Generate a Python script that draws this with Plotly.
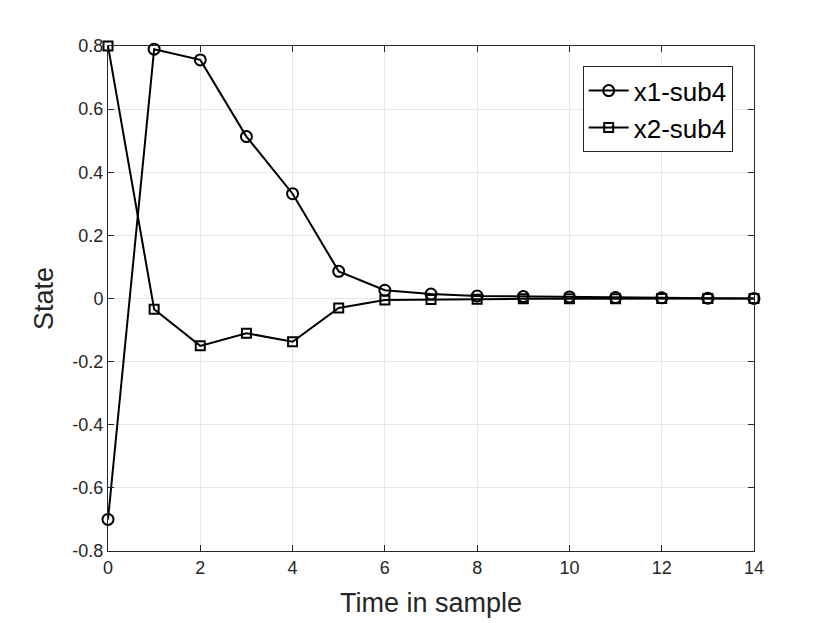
import plotly.graph_objects as go

# Data
time_steps = list(range(15))
x1_sub4 = [-0.70, 0.79, 0.756, 0.513, 0.332, 0.086, 0.026, 0.014, 0.008,
           0.006, 0.005, 0.003, 0.002, 0.001, 0.0]
x2_sub4 = [0.80, -0.034, -0.150, -0.110, -0.137, -0.030, -0.005, -0.003,
           -0.002, -0.001, -0.001, -0.001, 0.0, 0.0, 0.0]
x_ticks = [0, 2, 4, 6, 8, 10, 12, 14]
y_ticks = [-0.8, -0.6, -0.4, -0.2, 0, 0.2, 0.4, 0.6, 0.8]
y_ticklabels = ['-0.8', '-0.6', '-0.4', '-0.2', '0', '0.2', '0.4', '0.6', '0.8']

font_family = 'Liberation Sans, Arial, sans-serif'

fig = go.Figure()
fig.add_trace(go.Scatter(x=time_steps, y=x1_sub4, name='x1-sub4',
                         mode='lines+markers', legendgroup='a',
                         cliponaxis=False,
                         line=dict(color='black', width=2),
                         marker=dict(symbol='circle-open', size=11,
                                     color='black', line=dict(width=2))))
fig.add_trace(go.Scatter(x=time_steps, y=x2_sub4, name='x2-sub4',
                         mode='lines+markers', legendgroup='b',
                         cliponaxis=False,
                         line=dict(color='black', width=2),
                         marker=dict(symbol='square-open', size=9,
                                     color='black', line=dict(width=2))))

axis_style = dict(showline=True, linecolor='#262626', linewidth=1,
                  mirror='ticks', ticks='inside', ticklen=6,
                  tickcolor='#262626', showgrid=True, gridcolor='#e6e6e6',
                  gridwidth=1, zeroline=False,
                  tickfont=dict(family=font_family, size=18, color='#262626'))

fig.update_xaxes(range=[0, 14], tickvals=x_ticks,
                 title=dict(text='Time in sample', standoff=16,
                            font=dict(family=font_family, size=27, color='#262626')),
                 **axis_style)
fig.update_yaxes(range=[-0.8, 0.8], tickvals=y_ticks, ticktext=y_ticklabels,
                 title=dict(text='State', standoff=10,
                            font=dict(family=font_family, size=27, color='#262626')),
                 **axis_style)

fig.update_layout(
    width=830, height=623,
    margin=dict(l=100, r=84, t=38, b=80),
    plot_bgcolor='white', paper_bgcolor='white',
    font=dict(family=font_family, color='#262626'),
    legend=dict(x=0.967, y=0.96, xanchor='right', yanchor='top',
                bgcolor='white', bordercolor='#262626', borderwidth=1,
                font=dict(family=font_family, size=26, color='black'),
                tracegroupgap=0, itemwidth=40),
)

fig.write_html("out.html")
